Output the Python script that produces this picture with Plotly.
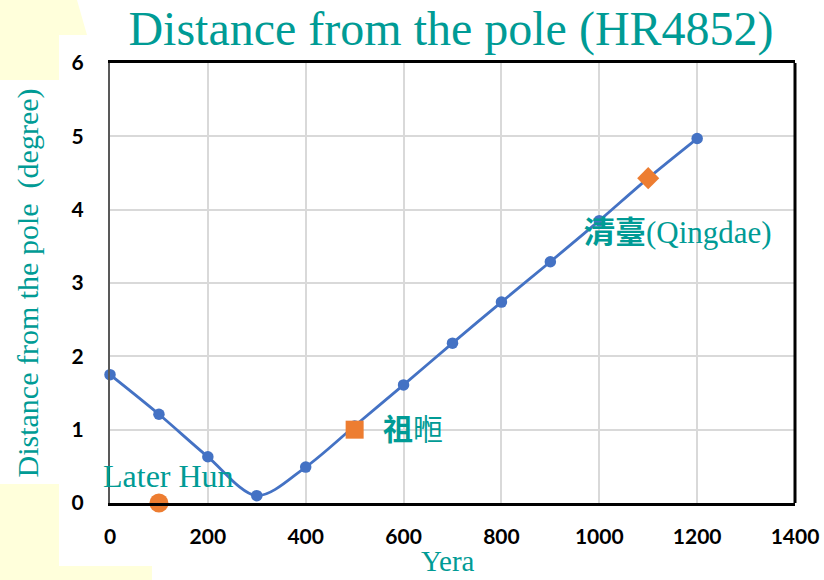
import plotly.graph_objects as go

# Computed polar distance of HR4852 by year
years = [0, 100, 200, 300, 400, 500, 600, 700, 800, 900, 1000, 1100, 1200]
distance = [1.75, 1.21, 0.63, 0.10, 0.49, 1.05, 1.61, 2.18, 2.74, 3.29, 3.85, 4.43, 4.97]

# Historical records
rec_years = [100, 500, 1100]
rec_dist = [0.0, 1.0, 4.43]
rec_symbols = ["circle", "square", "diamond"]

x_ticks = [0, 200, 400, 600, 800, 1000, 1200, 1400]
y_ticks = [0, 1, 2, 3, 4, 5, 6]

W, H = 824, 580
L, R, T, B = 110, 29, 63, 77
PW, PH = W - L - R, H - T - B

TEAL = "#009B95"
SERIF = "Times New Roman, Liberation Serif, Noto Sans CJK TC, serif"
SANS = "Lato, Open Sans, Liberation Sans, sans-serif"


def px(x):
    return (x - L) / PW


def py(y):
    return (H - B - y) / PH


fig = go.Figure()

fig.add_trace(go.Scatter(
    x=years, y=distance, mode="lines+markers",
    line=dict(color="#4472C4", width=2.8, shape="spline", smoothing=0.9),
    marker=dict(color="#4472C4", size=11.5),
    cliponaxis=False, showlegend=False, hoverinfo="skip",
))

fig.add_trace(go.Scatter(
    x=rec_years, y=rec_dist, mode="markers",
    marker=dict(color="#ED7D31", size=[19, 18, 17], symbol=rec_symbols, opacity=1,
                line=dict(width=0)),
    cliponaxis=False, showlegend=False, hoverinfo="skip",
))

# decorative pale background panels
yellow = "#FFFFDB"
shapes = [
    dict(type="path", xref="paper", yref="paper",
         path=f"M {px(0)},{py(0)} L {px(77)},{py(0)} L {px(87)},{py(35)} "
              f"L {px(59)},{py(35)} L {px(59)},{py(80)} L {px(0)},{py(80)} Z",
         fillcolor=yellow, line=dict(width=0), layer="below"),
    dict(type="path", xref="paper", yref="paper",
         path=f"M {px(0)},{py(484)} L {px(59)},{py(484)} L {px(59)},{py(566)} "
              f"L {px(152)},{py(566)} L {px(152)},{py(580)} L {px(0)},{py(580)} Z",
         fillcolor=yellow, line=dict(width=0), layer="below"),
    dict(type="line", xref="paper", yref="paper", x0=1, x1=1, y0=0, y1=1,
         line=dict(color="black", width=3)),
]

annotations = [
    dict(x=100, y=0.0, xref="x", yref="y", text="Later Hun", showarrow=False,
         xanchor="center", yanchor="middle", xshift=10, yshift=27,
         font=dict(family=SERIF, size=32, color=TEAL)),
    dict(x=500, y=1.0, xref="x", yref="y", text="<b>祖</b>暅", showarrow=False,
         xanchor="left", yanchor="middle", xshift=26, yshift=0,
         font=dict(family=SERIF, size=30, color=TEAL)),
    dict(x=1100, y=4.43, xref="x", yref="y", text="<b>清臺</b>(Qingdae)",
         showarrow=False, xanchor="left", yanchor="middle", xshift=-66, yshift=-54,
         font=dict(family=SERIF, size=31, color=TEAL)),
    # x-axis title
    dict(x=px(448), y=py(561), xref="paper", yref="paper", text="Yera",
         showarrow=False, xanchor="center", yanchor="middle", borderpad=0,
         font=dict(family=SERIF, size=29, color=TEAL)),
]

fig.update_layout(
    width=W, height=H,
    margin=dict(l=L, r=R, t=T, b=B, pad=0),
    paper_bgcolor="white", plot_bgcolor="white",
    title=dict(text="Distance from the pole (HR4852)", x=451 / W, xanchor="center",
               y=1 - 28 / H, yanchor="middle",
               font=dict(family=SERIF, size=48, color=TEAL)),
    xaxis=dict(range=[0, 1400], tickvals=x_ticks, ticktext=[str(v) for v in x_ticks],
               showgrid=True, gridcolor="#D9D9D9", gridwidth=1.5,
               showline=True, linecolor="black", linewidth=3, mirror=True,
               zeroline=False, ticks="", ticklabelstandoff=13, automargin=False,
               tickfont=dict(family=SANS, size=21, color="black", weight="bold")),
    yaxis=dict(range=[0, 6], tickvals=y_ticks, ticktext=[str(v) for v in y_ticks],
               showgrid=True, gridcolor="#D9D9D9", gridwidth=1.5,
               showline=True, linecolor="#595959", linewidth=2,
               zeroline=False, ticks="", ticklabelstandoff=20, automargin=False,
               tickfont=dict(family=SANS, size=21, color="black", weight="bold"),
               title=dict(text="Distance from the pole  (degree)", standoff=24,
                          font=dict(family=SERIF, size=30, color=TEAL))),
    shapes=shapes,
    annotations=annotations,
)

fig.write_html("out.html")
